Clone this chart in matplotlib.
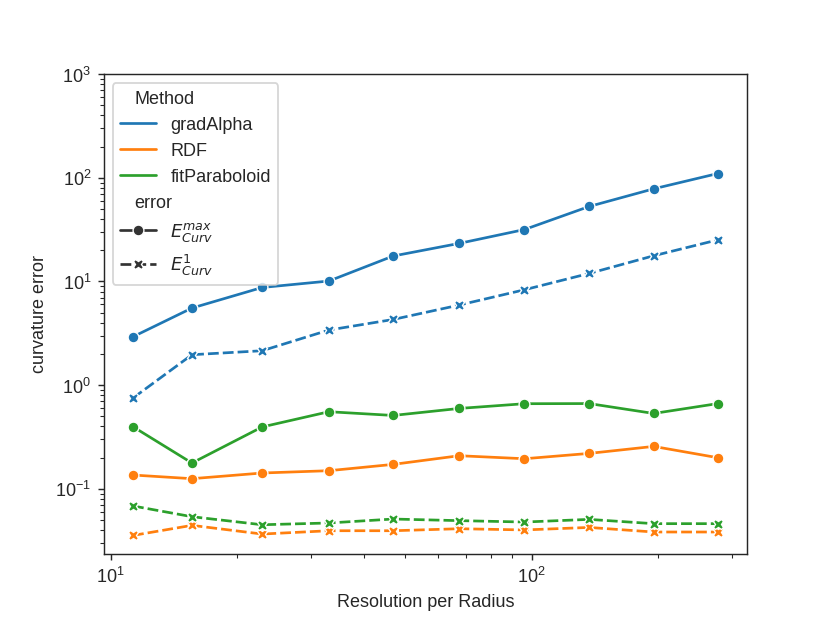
import matplotlib
matplotlib.use("Agg")
import matplotlib.pyplot as plt
import seaborn as sns
import pandas as pd

resolution = [11.3, 15.6, 22.9, 33.0, 46.9, 67.3, 96.2, 137.0, 195.0, 277.0]
methods = ["gradAlpha", "RDF", "fitParaboloid"]
error_labels = [r"$E^{max}_{Curv}$", r"$E^{1}_{Curv}$"]

grad_max = [2.93, 5.54, 8.75, 10.1, 17.6, 23.3, 31.7, 52.9, 78.3, 110.0]
grad_l1 = [0.751, 1.965, 2.147, 3.40, 4.30, 5.92, 8.32, 11.95, 17.7, 25.2]
rdf_max = [0.1358, 0.1252, 0.142, 0.1495, 0.172, 0.2085, 0.195, 0.2195, 0.2564, 0.1995]
rdf_l1 = [0.0355, 0.0444, 0.0366, 0.0394, 0.0394, 0.0412, 0.0401, 0.0424, 0.0383, 0.0383]
fit_max = [0.397, 0.1773, 0.395, 0.554, 0.510, 0.596, 0.662, 0.664, 0.533, 0.664]
fit_l1 = [0.0683, 0.0538, 0.0450, 0.0468, 0.0511, 0.0493, 0.0478, 0.0507, 0.0461, 0.0461]

series = {
    ("gradAlpha", 0): grad_max, ("gradAlpha", 1): grad_l1,
    ("RDF", 0): rdf_max, ("RDF", 1): rdf_l1,
    ("fitParaboloid", 0): fit_max, ("fitParaboloid", 1): fit_l1,
}

rows = []
for m in methods:
    for e in (0, 1):
        for x, y in zip(resolution, series[(m, e)]):
            rows.append({"Resolution per Radius": x, "curvature error": y,
                         "Method": m, "error": error_labels[e]})
df = pd.DataFrame(rows)

sns.set_style("ticks")
plt.rcParams["font.family"] = ["Liberation Sans", "DejaVu Sans"]

fig, ax = plt.subplots(figsize=(6.4, 4.8), dpi=129.7)
sns.lineplot(data=df, x="Resolution per Radius", y="curvature error",
             hue="Method", style="error", markers=True, ax=ax,
             hue_order=methods, style_order=error_labels)
ax.set_xscale("log")
ax.set_yscale("log")
ax.set_ylim(top=1000)
for s in ax.spines.values():
    s.set_visible(True)
handles, labels = ax.get_legend_handles_labels()
leg = ax.legend(handles, labels, loc="upper left")
# make subtitle entries look like titles (no handle space)
for col in leg._legend_handle_box.get_children():
    for hp in col.get_children():
        children = hp.get_children()
        if len(children) != 2:
            continue
        da, ta = children
        txt = ta.get_children()[0].get_text() if ta.get_children() else ""
        if txt in ("Method", "error"):
            da.set_width(0)
fig.savefig("out.png", dpi=129.7)
